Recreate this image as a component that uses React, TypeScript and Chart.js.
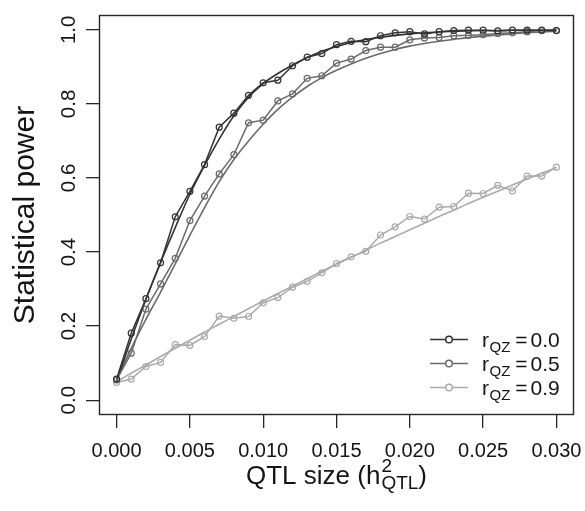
import { useEffect, useRef } from "react";
import { Chart, registerables } from "chart.js";

Chart.register(...registerables);

// QTL size (h^2_QTL)
const qtlSize = [
  0, 0.001, 0.002, 0.003, 0.004, 0.005, 0.006, 0.007, 0.008, 0.009, 0.01,
  0.011, 0.012, 0.013, 0.014, 0.015, 0.016, 0.017, 0.018, 0.019, 0.02,
  0.021, 0.022, 0.023, 0.024, 0.025, 0.026, 0.027, 0.028, 0.029, 0.03,
];

// simulated power (points)
const powerR00 = [
  0.057, 0.181, 0.274, 0.371, 0.495, 0.564, 0.636, 0.737, 0.775, 0.823, 0.857,
  0.864, 0.903, 0.926, 0.936, 0.96, 0.969, 0.968, 0.984, 0.992, 0.995,
  0.989, 0.995, 0.998, 0.999, 0.999, 0.997, 0.999, 0.999, 0.999, 0.998,
];
const powerR05 = [
  0.055, 0.127, 0.246, 0.314, 0.383, 0.485, 0.551, 0.611, 0.663, 0.749, 0.756,
  0.808, 0.827, 0.869, 0.876, 0.91, 0.921, 0.944, 0.953, 0.953, 0.973,
  0.978, 0.979, 0.984, 0.985, 0.987, 0.99, 0.992, 0.995, 0.998, 0.998,
];
const powerR09 = [
  0.048, 0.057, 0.091, 0.102, 0.15, 0.148, 0.172, 0.227, 0.221, 0.226, 0.263,
  0.277, 0.305, 0.321, 0.344, 0.369, 0.387, 0.402, 0.446, 0.468, 0.496,
  0.489, 0.521, 0.523, 0.559, 0.558, 0.58, 0.565, 0.605, 0.605, 0.629,
];

// smooth (theoretical) power curves
const curveR00 = [
  0.05, 0.165, 0.272, 0.372, 0.466, 0.556, 0.634, 0.705, 0.768, 0.818, 0.855,
  0.882, 0.905, 0.925, 0.942, 0.955, 0.966, 0.974, 0.98, 0.985, 0.989,
  0.992, 0.994, 0.996, 0.997, 0.998, 0.998, 0.999, 0.999, 0.999, 1.0,
];
const curveR05 = [
  0.055, 0.14, 0.218, 0.292, 0.368, 0.445, 0.52, 0.59, 0.65, 0.7, 0.745,
  0.785, 0.818, 0.847, 0.871, 0.891, 0.908, 0.923, 0.936, 0.947, 0.956,
  0.963, 0.969, 0.974, 0.979, 0.983, 0.986, 0.989, 0.992, 0.994, 0.996,
];
const curveR09 = [
  0.05, 0.073, 0.095, 0.118, 0.14, 0.162, 0.184, 0.205, 0.226, 0.247, 0.268,
  0.288, 0.308, 0.328, 0.348, 0.367, 0.386, 0.405, 0.424, 0.442, 0.46,
  0.478, 0.496, 0.513, 0.531, 0.548, 0.564, 0.581, 0.597, 0.613, 0.628,
];

const xTickValues = [0, 0.005, 0.01, 0.015, 0.02, 0.025, 0.03];
const xTickLabels = ["0.000", "0.005", "0.010", "0.015", "0.020", "0.025", "0.030"];
const yTickValues = [0, 0.2, 0.4, 0.6, 0.8, 1.0];
const yTickLabels = ["0.0", "0.2", "0.4", "0.6", "0.8", "1.0"];
const legendValues = ["0.0", "0.5", "0.9"];
const seriesColors = ["#333333", "#6a6a6a", "#aaaaaa"];

const FONT = "'Liberation Sans', Arial, Helvetica, sans-serif";
const TEXT = "#141414";

const decorPlugin = {
  id: "decor",
  afterDraw(chart: any) {
    const { ctx, chartArea: a, scales } = chart;
    const xs = scales.x;
    const ys = scales.y;
    ctx.save();
    // box
    ctx.strokeStyle = "#262626";
    ctx.lineWidth = 1.4;
    ctx.strokeRect(a.left + 0.5, a.top + 0.5, a.right - a.left - 1, a.bottom - a.top - 1);

    ctx.fillStyle = TEXT;
    ctx.textBaseline = "alphabetic";
    ctx.textAlign = "center";
    ctx.font = `20px ${FONT}`;
    xTickValues.forEach((v, i) => {
      ctx.fillText(xTickLabels[i], xs.getPixelForValue(v), a.bottom + 42);
    });
    ctx.font = `20.5px ${FONT}`;
    yTickValues.forEach((v, i) => {
      ctx.save();
      ctx.translate(a.left - 24, ys.getPixelForValue(v));
      ctx.rotate(-Math.PI / 2);
      ctx.fillText(yTickLabels[i], 0, 0);
      ctx.restore();
    });

    // y title
    ctx.save();
    ctx.font = `30px ${FONT}`;
    ctx.translate(a.left - 65, (a.top + a.bottom) / 2);
    ctx.rotate(-Math.PI / 2);
    ctx.fillText("Statistical power", 0, 0);
    ctx.restore();

    // x title: QTL size (h^2_QTL)
    ctx.textAlign = "left";
    const mainFont = `26px ${FONT}`;
    const smallFont = `19px ${FONT}`;
    ctx.font = mainFont;
    const wMain = ctx.measureText("QTL size (h").width;
    const wClose = ctx.measureText(")").width;
    ctx.font = smallFont;
    const wSup = ctx.measureText("2").width;
    const wSub = ctx.measureText("QTL").width;
    const wScript = Math.max(wSup, wSub) + 1;
    const total = wMain + wScript + wClose;
    const cx = (a.left + a.right) / 2;
    const base = a.bottom + 69;
    const x0 = cx - total / 2;
    ctx.font = mainFont;
    ctx.fillText("QTL size (h", x0, base);
    ctx.font = smallFont;
    ctx.fillText("2", x0 + wMain + 1, base - 12.5);
    ctx.fillText("QTL", x0 + wMain + 1, base + 5);
    ctx.font = mainFont;
    ctx.fillText(")", x0 + wMain + wScript, base);

    // legend
    const rowYs = [a.bottom - 75.5, a.bottom - 51.5, a.bottom - 27.5];
    const lx0 = 430;
    const lx1 = 468;
    legendValues.forEach((val, i) => {
      const y = rowYs[i];
      ctx.strokeStyle = seriesColors[i];
      ctx.lineWidth = 1.5;
      ctx.beginPath();
      ctx.moveTo(lx0, y);
      ctx.lineTo(lx1, y);
      ctx.stroke();
      ctx.beginPath();
      ctx.fillStyle = "#ffffff";
      ctx.arc((lx0 + lx1) / 2, y, 3.3, 0, Math.PI * 2);
      ctx.fill();
      ctx.stroke();
      ctx.fillStyle = TEXT;
      ctx.textAlign = "left";
      ctx.font = `21px ${FONT}`;
      const tx = 482;
      ctx.fillText("r", tx, y + 7.5);
      const rw = ctx.measureText("r").width;
      ctx.font = `15px ${FONT}`;
      ctx.fillText("QZ", tx + rw + 0.5, y + 12.5);
      ctx.font = `21px ${FONT}`;
      ctx.textAlign = "center";
      ctx.fillText("=", 521.5, y + 7.5);
      ctx.textAlign = "left";
      ctx.fillText(val, 530.5, y + 7.5);
    });
    ctx.restore();
  },
};

function pts(ys: number[]) {
  return qtlSize.map((x, i) => ({ x, y: ys[i] }));
}

export default function App() {
  const ref = useRef<HTMLCanvasElement | null>(null);
  useEffect(() => {
    if (!ref.current) return;
    const pointsSeries = [powerR00, powerR05, powerR09];
    const curveSeries = [curveR00, curveR05, curveR09];
    const datasets: any[] = [];
    pointsSeries.forEach((s, i) => {
      datasets.push({
        label: "r_QZ = " + legendValues[i],
        data: pts(s),
        borderColor: seriesColors[i],
        borderWidth: 1.5,
        pointRadius: 3,
        pointBorderWidth: 1.2,
        pointBorderColor: seriesColors[i],
        pointBackgroundColor: "rgba(255,255,255,0)",
        tension: 0,
        fill: false,
      });
    });
    curveSeries.forEach((s, i) => {
      datasets.push({
        label: "curve " + legendValues[i],
        data: pts(s),
        borderColor: seriesColors[i],
        borderWidth: 1.6,
        pointRadius: 0,
        cubicInterpolationMode: "monotone",
        fill: false,
      });
    });
    const axisCommon = {
      type: "linear",
      border: { display: false },
      ticks: { display: false },
      grid: {
        drawOnChartArea: false,
        drawTicks: true,
        tickLength: 13,
        color: "#262626",
        lineWidth: 1.3,
      },
    };
    const chart = new Chart(ref.current, {
      type: "line",
      data: { datasets },
      plugins: [decorPlugin],
      options: {
        responsive: false,
        animation: false,
        events: [],
        layout: { padding: { left: 86, right: 11, top: 15, bottom: 83 } },
        plugins: { legend: { display: false }, tooltip: { enabled: false } },
        scales: {
          x: {
            ...axisCommon,
            position: "bottom",
            min: -0.0012,
            max: 0.0312,
            afterBuildTicks: (scale: any) => {
              scale.ticks = xTickValues.map((v) => ({ value: v }));
            },
            afterFit: (scale: any) => {
              scale.height = 13;
            },
          },
          y: {
            ...axisCommon,
            position: "left",
            min: -0.04,
            max: 1.04,
            afterBuildTicks: (scale: any) => {
              scale.ticks = yTickValues.map((v) => ({ value: v }));
            },
            afterFit: (scale: any) => {
              scale.width = 13;
            },
          },
        },
      } as any,
    });
    return () => chart.destroy();
  }, []);
  return (
    <div style={{ position: "absolute", left: 0, top: 0, width: 585, height: 511, background: "#fff" }}>
      <canvas ref={ref} width={585} height={511} style={{ display: "block" }} />
    </div>
  );
}
